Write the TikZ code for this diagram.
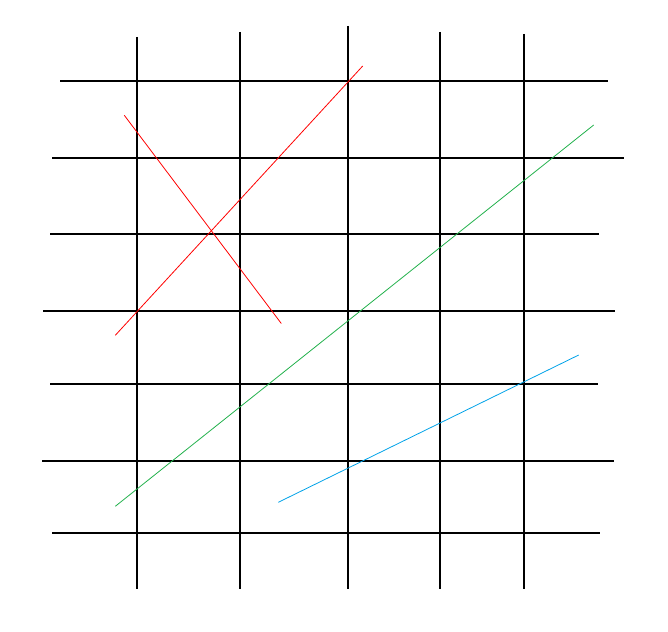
\documentclass[tikz,border=0pt]{standalone}
\definecolor{pred}{RGB}{237,28,36}
\definecolor{pgreen}{RGB}{34,177,76}
\definecolor{pblue}{RGB}{0,162,232}
\begin{document}
\begin{tikzpicture}[x=1pt,y=-1pt,
  gridline/.style={black,line width=1.1pt},
  colline/.style={line width=0.8pt}]
\useasboundingbox (0,0) rectangle (668,631);
% vertical lines
\draw[gridline] (137,37) -- (137,589);
\draw[gridline] (240,32) -- (240,589);
\draw[gridline] (348,26) -- (348,589);
\draw[gridline] (440,32) -- (440,589);
\draw[gridline] (524,34) -- (524,589);
% horizontal lines
\draw[gridline] (60,81) -- (608,81);
\draw[gridline] (52,158) -- (624,158);
\draw[gridline] (50,234) -- (599,234);
\draw[gridline] (43,311) -- (615,311);
\draw[gridline] (50,384) -- (598,384);
\draw[gridline] (42,461) -- (614,461);
\draw[gridline] (52,533) -- (600,533);
% coloured lines
\draw[colline,red] (124.3,115.3) -- (281.3,323.5);
\draw[colline,red] (115.3,335.3) -- (362.7,66);
\draw[colline,pgreen] (115.3,506.3) -- (593.7,125);
\draw[colline,pblue] (278.3,502.3) -- (578.7,355);
\end{tikzpicture}
\end{document}
